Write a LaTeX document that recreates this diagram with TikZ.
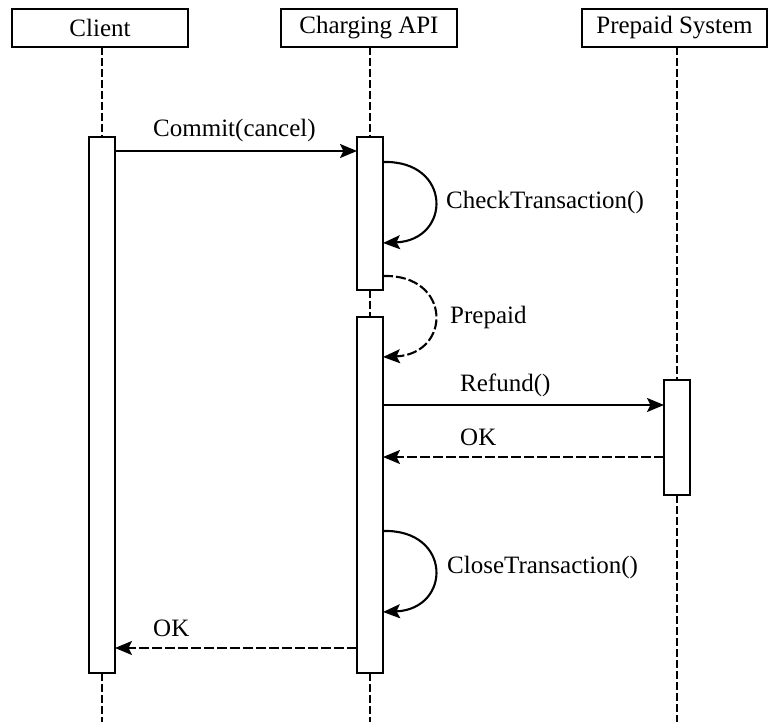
\documentclass[tikz,border=0pt]{standalone}
\usepackage{fontspec}
\setmainfont{Liberation Serif}
\usetikzlibrary{arrows.meta}
\begin{document}
\begin{tikzpicture}[x=1pt,y=-1pt,
  every node/.style={font=\fontsize{25}{30}\selectfont},
  header/.style={draw,line width=2.1pt,minimum height=38pt,inner sep=0pt,outer sep=0pt},
  actbar/.style={draw,fill=white,line width=2.1pt,minimum width=26pt,inner sep=0pt,outer sep=0pt},
  life/.style={line width=2.1pt,dash pattern=on 8pt off 3pt},
  msg/.style={line width=2.1pt,-{Stealth[length=17pt,width=14pt,inset=3.5pt]}},
  reply/.style={msg,dash pattern=on 10pt off 3pt},
  lbl/.style={anchor=west,inner sep=0pt}]
\useasboundingbox (0,0) rectangle (769,722);
\coordinate (bot) at (0,722);
% headers
\node[header,minimum width=176pt] (hc) at (100,28) {Client};
\node[header,minimum width=176pt] (ha) at (369,28) {Charging API};
\node[header,minimum width=185pt] (hp) at (674.5,28) {Prepaid System};
% activation bars
\node[actbar,minimum height=536pt] (cb) at (102,405) {};
\node[actbar,minimum height=153pt] (ca1) at (370,213.5) {};
\node[actbar,minimum height=356pt] (ca2) at (370,495) {};
\node[actbar,minimum height=115pt] (pb) at (677,437.5) {};
% lifelines
\draw[life] (cb.north |- hc.south) -- (cb.north);
\draw[life] (cb.south) -- (cb.south |- bot);
\draw[life] (ca1.north |- ha.south) -- (ca1.north);
\draw[life] (ca1.south) -- (ca2.north);
\draw[life] (ca2.south) -- (ca2.south |- bot);
\draw[life] (pb.north |- hp.south) -- (pb.north);
\draw[life] (pb.south) -- (pb.south |- bot);
% messages
\draw[msg] ([yshift=-14pt]cb.north east) -- ([yshift=-14pt]ca1.north west);
\node[lbl] (l1) at (153,130) {Commit(cancel)};
\draw[msg] ([yshift=-25pt]ca1.north east) .. controls +(69,-2) and +(69,-3) .. ([yshift=-106pt]ca1.north east);
\node[lbl] (l2) at (446,202) {CheckTransaction()};
\draw[reply] ([yshift=14pt]ca1.south east) .. controls +(69,-2) and +(69,-3) .. ([yshift=-40pt]ca2.north east);
\node[lbl] (l3) at (450,317) {Prepaid};
\draw[msg] ([yshift=-88pt]ca2.north east) -- ([yshift=-25pt]pb.north west);
\node[lbl] (l4) at (460,385) {Refund()};
\draw[reply] ([yshift=-77pt]pb.north west) -- ([yshift=-140pt]ca2.north east);
\node[lbl] (l5) at (460,437) {OK};
\draw[msg] ([yshift=-214pt]ca2.north east) .. controls +(69,-2) and +(69,-3) .. ([yshift=-295pt]ca2.north east);
\node[lbl] (l6) at (447,567) {CloseTransaction()};
\draw[reply] ([yshift=25pt]ca2.south west) -- ([yshift=25pt]cb.south east);
\node[lbl] (l7) at (153,628) {OK};
\end{tikzpicture}
\end{document}
